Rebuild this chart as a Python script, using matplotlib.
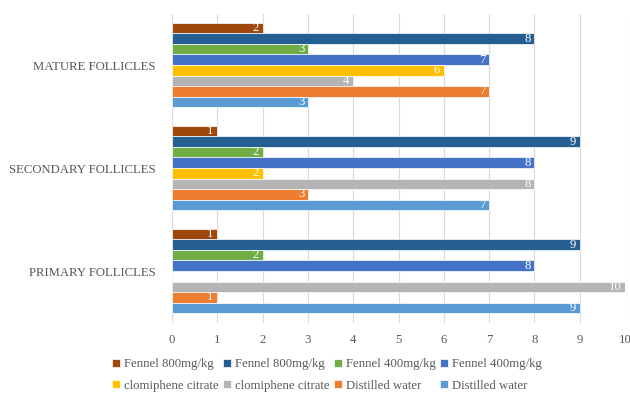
import matplotlib
matplotlib.use("Agg")
import matplotlib.pyplot as plt
import numpy as np

categories = ["PRIMARY FOLLICLES", "SECONDARY FOLLICLES", "MATURE FOLLICLES"]
series_names = ["Fennel 800mg/kg", "Fennel 800mg/kg", "Fennel 400mg/kg", "Fennel 400mg/kg",
                "clomiphene citrate", "clomiphene citrate", "Distilled water", "Distilled water"]
# values per series: [primary, secondary, mature]
values = [
    [1, 1, 2],
    [9, 9, 8],
    [2, 2, 3],
    [8, 8, 7],
    [0, 2, 6],
    [10, 8, 4],
    [1, 3, 7],
    [9, 7, 3],
]
colors = ["#9E480E", "#255E91", "#70AD47", "#4472C4", "#FFC000", "#B4B4B4", "#ED7D31", "#5B9BD5"]
xticks = list(range(0, 11))

plt.rcParams['font.family'] = ['Liberation Serif', 'DejaVu Serif']
textcol = "#595959"

fig = plt.figure(figsize=(6.3, 3.94), dpi=100)
ax = fig.add_axes([172/630, 1 - 322.5/394, (625-172)/630, 309/394])

n = len(values)
bh = 0.102
y = np.arange(len(categories))
handles = []
for i, (vals, c) in enumerate(zip(values, colors)):
    offs = (n - 1) / 2 * bh - i * bh
    b = ax.barh(y + offs, vals, height=bh, color=c, edgecolor="white", linewidth=0.5,
                label=series_names[i], zorder=3)
    handles.append(b)
    for yy, v in zip(y + offs, vals):
        if v > 0:
            ax.text(v - 0.08, yy, str(v), ha="right", va="center", color="white",
                    fontsize=9.2, zorder=4)

ax.set_xlim(0, 10)
ax.set_ylim(-0.5, 2.5)
ax.set_xticks(xticks)
ax.set_xticklabels([str(t) for t in xticks], color=textcol, fontsize=9.2)
ax.set_yticks(y)
ax.set_yticklabels(categories, color=textcol, fontsize=9.2)
ax.tick_params(axis="y", length=0, pad=12)
ax.tick_params(axis="x", length=0, pad=8)
ax.xaxis.grid(True, color="#D9D9D9", linewidth=0.8, zorder=0)
for s in ax.spines.values():
    s.set_visible(False)

order = [0, 4, 1, 5, 2, 6, 3, 7]
leg = fig.legend([handles[i] for i in order], [series_names[i] for i in order],
                 ncol=4, loc="center", bbox_to_anchor=(0.5 + 12/630, 1 - 375/394), frameon=False,
                 fontsize=9.2, handlelength=0.6, handleheight=0.6, handletextpad=0.3,
                 columnspacing=0.38, labelspacing=0.75)
for t in leg.get_texts():
    t.set_color(textcol)

fig.savefig("out.png", dpi=100)
